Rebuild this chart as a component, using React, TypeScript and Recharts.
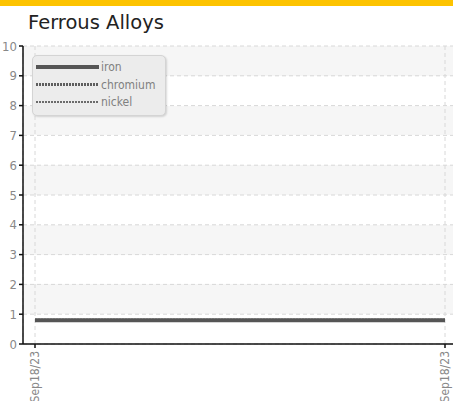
import React from "react";
import { CartesianGrid, Line, LineChart, XAxis, YAxis } from "recharts";

const dates = ["Sep18/23", "Sep18/23"];
const iron = [0.8, 0.8];
const chromium = [0.8, 0.8];
const nickel = [0.8, 0.8];
const yTicks = [0, 1, 2, 3, 4, 5, 6, 7, 8, 9, 10];

const SERIES = [
  { key: "nickel", stroke: "#6b6b6b", width: 2, dash: "2 1" },
  { key: "chromium", stroke: "#5e5e5e", width: 3, dash: "2 1" },
  { key: "iron", stroke: "#555555", width: 4, dash: undefined },
];

const data = dates.map((d, i) => ({
  date: d,
  iron: iron[i],
  chromium: chromium[i],
  nickel: nickel[i],
}));

const FONT = "'DejaVu Sans Condensed', 'Liberation Sans Narrow', sans-serif";

function LegendBox() {
  const order = ["iron", "chromium", "nickel"];
  return (
    <div
      style={{
        width: 134,
        height: 61,
        background: "#ececec",
        border: "1px solid #d4d4d4",
        borderRadius: 5,
        boxShadow: "1px 1px 2px rgba(0,0,0,0.15)",
        boxSizing: "border-box",
      }}
    >
      <svg width={134} height={61}>
        {order.map((k, i) => {
          const s = SERIES.find((x) => x.key === k)!;
          const y = 11 + i * 17.5;
          return (
            <g key={k}>
              <line
                x1={3}
                x2={66}
                y1={y}
                y2={y}
                stroke={s.stroke}
                strokeWidth={s.width}
                strokeDasharray={s.dash}
              />
              <text x={68} y={y + 4} fontSize={12} fill="#808080" fontFamily={FONT}>
                {k}
              </text>
            </g>
          );
        })}
      </svg>
    </div>
  );
}

export default function App() {
  return (
    <div
      style={{
        position: "absolute",
        left: 0,
        top: 0,
        width: 453,
        height: 401,
        overflow: "hidden",
        background: "#fff",
      }}
    >
      <div style={{ position: "absolute", left: 0, top: 0, width: 453, height: 6, background: "#fdc300" }} />
      <div
        style={{
          position: "absolute",
          left: 28,
          top: 11,
          fontFamily: "'DejaVu Sans', Verdana, sans-serif",
          fontSize: 19.5,
          color: "#222",
        }}
      >
        Ferrous Alloys
      </div>
      <div style={{ position: "absolute", left: 0, top: 0 }}>
        <LineChart width={457} height={420} data={data} margin={{ top: 46, right: 0, left: 0, bottom: 0 }}>
          <CartesianGrid
            stroke="#d8d8d8"
            strokeDasharray="4 3"
            horizontalFill={["#f6f6f6", "#ffffff"]}
          />
          <XAxis
            dataKey="date"
            padding={{ left: 12, right: 12 }}
            height={76}
            interval={0}
            tickSize={4}
            stroke="#111"
            strokeWidth={1.5}
            angle={-90}
            textAnchor="end"
            dx={-5}
            dy={1}
            tick={{ fill: "#888", fontSize: 12, fontFamily: FONT }}
          />
          <YAxis
            domain={[0, 10]}
            ticks={yTicks}
            interval={0}
            width={23}
            tickSize={4}
            stroke="#111"
            strokeWidth={1.5}
            tick={{ fill: "#888", fontSize: 13, fontFamily: FONT }}
          />
          {SERIES.map((s) => (
            <Line
              key={s.key}
              dataKey={s.key}
              stroke={s.stroke}
              strokeWidth={s.width}
              strokeDasharray={s.dash}
              dot={false}
              type="linear"
              isAnimationActive={false}
            />
          ))}
        </LineChart>
      </div>
      <div style={{ position: "absolute", left: 32, top: 55 }}>
        <LegendBox />
      </div>
    </div>
  );
}
